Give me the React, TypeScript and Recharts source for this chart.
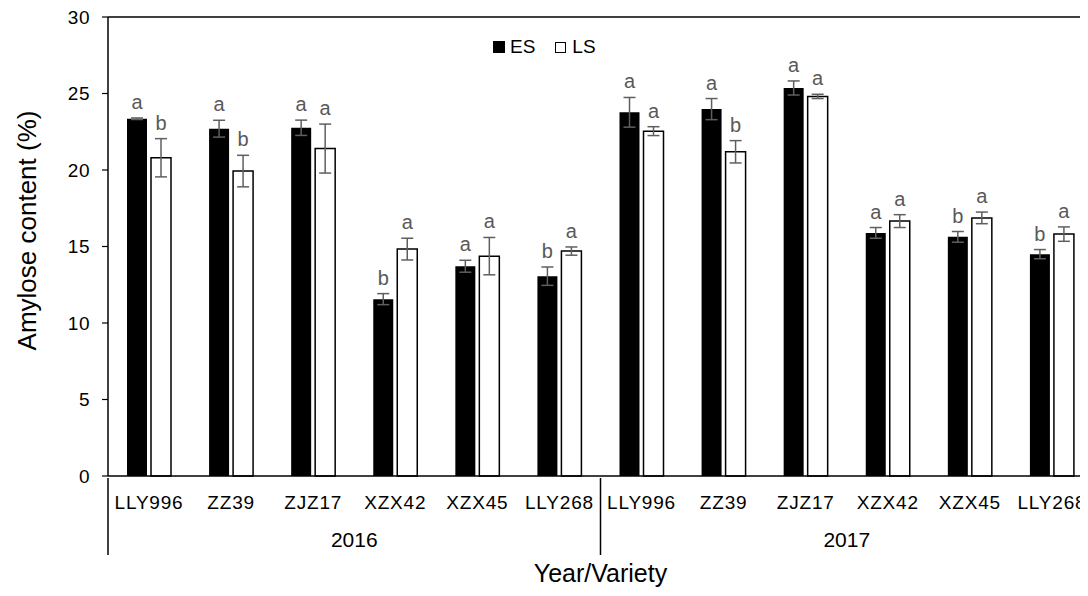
import React from 'react';
import {
  BarChart,
  Bar,
  XAxis,
  YAxis,
  ErrorBar,
  LabelList,
  Legend,
  ReferenceLine,
  Label,
} from 'recharts';

// Varieties per year and sampling seasons
const YEARS = ['2016', '2016', '2016', '2016', '2016', '2016', '2017', '2017', '2017', '2017', '2017', '2017'];
const VARIETIES = ['LLY996', 'ZZ39', 'ZJZ17', 'XZX42', 'XZX45', 'LLY268', 'LLY996', 'ZZ39', 'ZJZ17', 'XZX42', 'XZX45', 'LLY268'];

// Amylose content (%) — early season (ES) and late season (LS)
const ES = [23.35, 22.7, 22.76, 11.56, 13.71, 13.06, 23.77, 23.98, 25.36, 15.89, 15.63, 14.5];
const ES_ERR = [0.05, 0.55, 0.5, 0.36, 0.39, 0.6, 0.97, 0.69, 0.46, 0.35, 0.35, 0.3];
const ES_SIG = ['a', 'a', 'a', 'b', 'a', 'b', 'a', 'a', 'a', 'a', 'b', 'b'];

const LS = [20.8, 19.93, 21.4, 14.83, 14.37, 14.7, 22.54, 21.19, 24.81, 16.66, 16.87, 15.81];
const LS_ERR = [1.25, 1.03, 1.6, 0.71, 1.22, 0.27, 0.29, 0.73, 0.14, 0.42, 0.38, 0.47];
const LS_SIG = ['b', 'b', 'a', 'a', 'a', 'a', 'a', 'b', 'a', 'a', 'a', 'a'];

const Y_TICKS = [0, 5, 10, 15, 20, 25, 30];

const data = VARIETIES.map((v, i) => ({
  key: `${YEARS[i]}-${v}`,
  variety: v,
  year: YEARS[i],
  es: ES[i],
  esErr: ES_ERR[i],
  esSig: ES_SIG[i],
  ls: LS[i],
  lsErr: LS_ERR[i],
  lsSig: LS_SIG[i],
}));

const FONT = '"Liberation Sans", Arial, sans-serif';
const TEXT = '#000';
const SIG_COLOR = '#595959';
const ERR_COLOR = '#5f5f5f';

const VarietyTick = (props: any) => {
  const { x, y, payload, index } = props;
  const half = payload?.offset ?? 0;
  const last = index === VARIETIES.length - 1;
  return (
    <g>
      <text
        x={x}
        y={y + 31}
        textAnchor="middle"
        fontFamily={FONT}
        fontSize={19}
        letterSpacing={0.8}
        fill={TEXT}
      >
        {VARIETIES[index]}
      </text>
      {index % 6 === 0 && (
        <line x1={x - half} x2={x - half} y1={y} y2={y + 77} stroke="#000" strokeWidth={1.5} />
      )}
      {last && (
        <line x1={x + half} x2={x + half} y1={y} y2={y + 77} stroke="#000" strokeWidth={1.5} />
      )}
    </g>
  );
};

const YearTick = (props: any) => {
  const { x, y, payload } = props;
  return (
    <text x={x} y={y + 29} textAnchor="middle" fontFamily={FONT} fontSize={21} fill={TEXT}>
      {payload.value}
    </text>
  );
};

const makeSigLabel = (values: number[], errs: number[]) => (props: any) => {
  const { x, y, width, height, value, index } = props;
  const pxPerUnit = height / values[index];
  const top = y - errs[index] * pxPerUnit;
  return (
    <text
      x={x + width / 2}
      y={top - 9}
      textAnchor="middle"
      fontFamily={FONT}
      fontSize={20}
      fill={SIG_COLOR}
    >
      {value}
    </text>
  );
};

const LegendContent = () => (
  <div
    style={{
      display: 'flex',
      alignItems: 'center',
      fontFamily: FONT,
      fontSize: 19,
      color: TEXT,
      whiteSpace: 'nowrap',
    }}
  >
    <span style={{ display: 'inline-block', width: 12, height: 12, background: '#000', marginRight: 5 }} />
    <span style={{ marginRight: 20 }}>ES</span>
    <span
      style={{
        display: 'inline-block',
        width: 9,
        height: 9,
        border: '1.5px solid #000',
        background: '#fff',
        marginRight: 6,
      }}
    />
    <span>LS</span>
  </div>
);

export default function App() {
  return (
    <div style={{ margin: -8, width: 1088, height: 596, overflow: 'hidden', position: 'relative', background: '#fff' }}>
      <BarChart
        width={1100}
        height={596}
        data={data}
        margin={{ top: 17, right: 7, left: 0, bottom: 0 }}
        barSize={20}
        barGap={4}
      >
        <XAxis
          dataKey="key"
          interval={0}
          height={40}
          tickSize={0}
          tickLine={false}
          axisLine={{ stroke: '#000', strokeWidth: 1.5 }}
          tick={<VarietyTick />}
        />
        <XAxis
          xAxisId="year"
          dataKey="year"
          allowDuplicatedCategory={false}
          height={80}
          tickSize={0}
          tickLine={false}
          axisLine={false}
          tick={<YearTick />}
        >
          <Label
            content={(p: any) => {
              const vb = p.viewBox || {};
              return (
                <text
                  x={vb.x + vb.width / 2}
                  y={vb.y + 66}
                  textAnchor="middle"
                  fontFamily={FONT}
                  fontSize={25}
                  fill={TEXT}
                >
                  Year/Variety
                </text>
              );
            }}
          />
        </XAxis>
        <YAxis
          width={108}
          domain={[0, 30]}
          ticks={Y_TICKS}
          interval={0}
          tickSize={6}
          tickMargin={12}
          axisLine={{ stroke: '#000', strokeWidth: 1.5 }}
          tickLine={{ stroke: '#000', strokeWidth: 1.2 }}
          tick={{ fontFamily: FONT, fontSize: 19, fill: TEXT, letterSpacing: 0.5 }}
        >
          <Label
            content={(p: any) => {
              const vb = p.viewBox || {};
              const cx = 27;
              const cy = vb.y + vb.height / 2 - 16;
              return (
                <text
                  x={cx}
                  y={cy}
                  transform={`rotate(-90, ${cx}, ${cy})`}
                  textAnchor="middle"
                  dominantBaseline="central"
                  fontFamily={FONT}
                  fontSize={26}
                  fill={TEXT}
                >
                  Amylose content (%)
                </text>
              );
            }}
          />
        </YAxis>
        <ReferenceLine y={30} stroke="#000" strokeWidth={1.5} />
        <Legend
          layout="horizontal"
          verticalAlign="middle"
          align="center"
          wrapperStyle={{ top: 36, left: 493, width: 'auto' }}
          content={<LegendContent />}
        />
        <Bar dataKey="es" name="ES" fill="#000" isAnimationActive={false}>
          <ErrorBar dataKey="esErr" width={6} stroke={ERR_COLOR} strokeWidth={1.5} direction="y" />
          <LabelList dataKey="esSig" content={makeSigLabel(ES, ES_ERR)} />
        </Bar>
        <Bar dataKey="ls" name="LS" fill="#fff" stroke="#000" strokeWidth={1.5} isAnimationActive={false}>
          <ErrorBar dataKey="lsErr" width={6} stroke={ERR_COLOR} strokeWidth={1.5} direction="y" />
          <LabelList dataKey="lsSig" content={makeSigLabel(LS, LS_ERR)} />
        </Bar>
      </BarChart>
    </div>
  );
}
